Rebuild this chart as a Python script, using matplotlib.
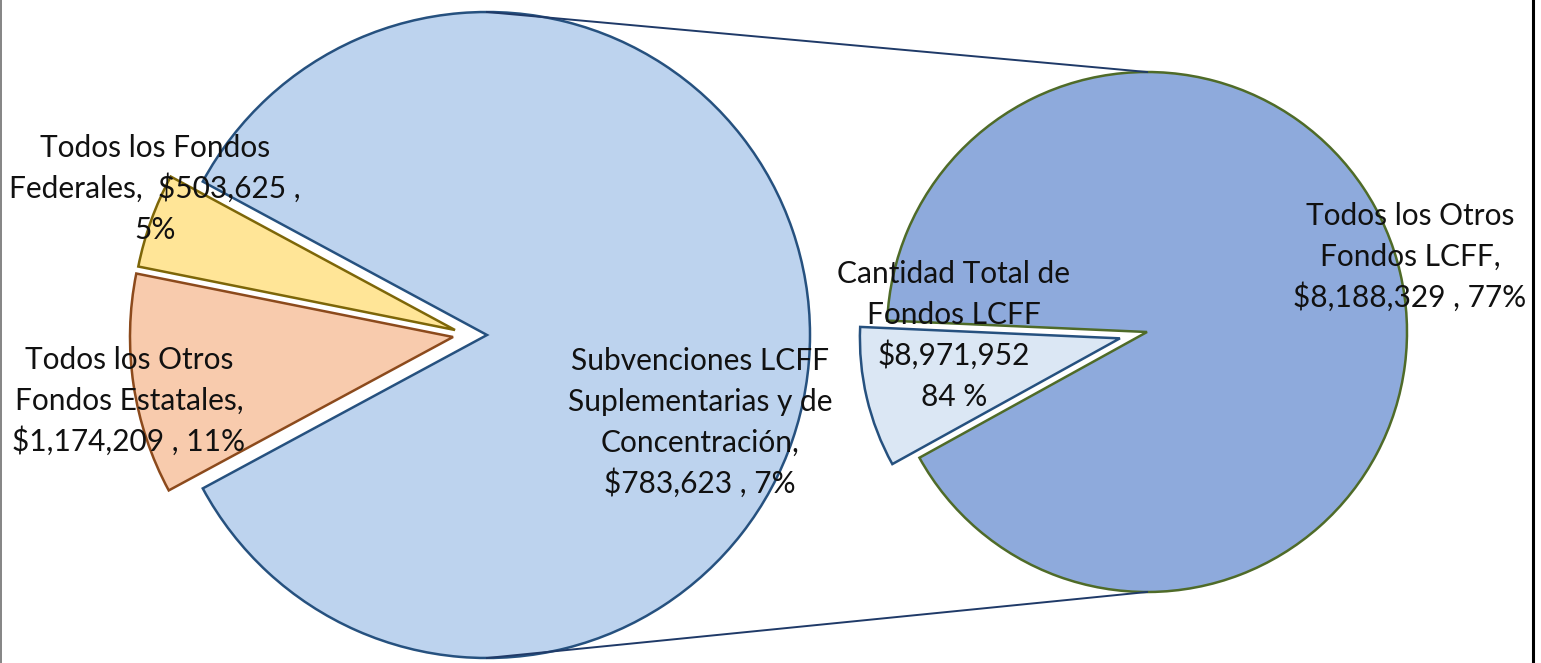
import matplotlib.pyplot as plt

W, H = 1541, 663

# first pie: where the money comes from
main_names = ['Todos los Fondos Federales', 'Todos los Otros Fondos Estatales', 'Cantidad Total de Fondos LCFF']
main_values = [503625, 1174209, 8971952]
main_colors = ['#FFE597', '#F8CBAD', '#BDD3EE']
main_edges = ['#7D6608', '#8C4A1C', '#26517F']

# second pie: the LCFF part split up
lcff_names = ['Subvenciones LCFF Suplementarias y de Concentración', 'Todos los Otros Fondos LCFF']
lcff_values = [783623, 8188329]
lcff_colors = ['#DBE7F4', '#8EAADC']
lcff_edges = ['#26517F', '#4F6B28']

total = sum(main_values)


def money(v):
    return '${:,.0f}'.format(v)


def pct(v):
    return '{:.0f}'.format(100 * v / total)


fig = plt.figure(figsize=(W / 100, H / 100), dpi=100)
ax = fig.add_axes([0, 0, 1, 1])

# left pie, the two small slices pulled out to the left
c1 = (487, H - 335)
r1 = 323
small_share = sum(main_values[:2]) / total
w1, _ = ax.pie(main_values, colors=main_colors, center=c1, radius=r1,
               startangle=180 - small_share * 180, counterclock=True,
               wedgeprops=dict(linewidth=1.8))
for w, ec in zip(w1, main_edges):
    w.set_edgecolor(ec)
shifts = [(-32, 5), (-34, -2)]
for w, (dx, dy) in zip(w1[:2], shifts):
    w.set_center((c1[0] + dx, c1[1] + dy))

# right pie (explode is in data units here, so scale by the radius)
c2 = (1147, H - 332)
r2 = 260
sub_share = lcff_values[0] / sum(lcff_values)
w2, _ = ax.pie(lcff_values, colors=lcff_colors, center=c2, radius=r2,
               startangle=193.2 - sub_share * 180, counterclock=True,
               explode=[0.107 * r2, 0], wedgeprops=dict(linewidth=1.8))
for w, ec in zip(w2, lcff_edges):
    w.set_edgecolor(ec)

# connector lines between the two pies
ax.plot([c1[0], c2[0]], [c1[1] + r1, c2[1] + r2], color='#1F3A68', lw=1.4, zorder=5)
ax.plot([c1[0], c2[0]], [c1[1] - r1, c2[1] - r2], color='#1F3A68', lw=1.4, zorder=5)

labels = [
    ('Todos los Fondos\nFederales,  {} ,\n{}%'.format(money(main_values[0]), pct(main_values[0])), 155, 157),
    ('Todos los Otros\nFondos Estatales,\n{} , {}%'.format(money(main_values[1]), pct(main_values[1])), 129, 369),
    ('Subvenciones LCFF\nSuplementarias y de\nConcentración,\n{} , {}%'.format(money(lcff_values[0]), pct(lcff_values[0])), 700, 370),
    ('Cantidad Total de\nFondos LCFF\n{}\n{} %'.format(money(main_values[2]), pct(main_values[2])), 954, 283),
    ('Todos los Otros\nFondos LCFF,\n{} , {}%'.format(money(lcff_values[1]), pct(lcff_values[1])), 1410, 225),
]
for txt, x, y in labels:
    for i, line in enumerate(txt.split('\n')):
        ax.text(x, H - (y + i * 41), line, ha='center', va='baseline',
                fontsize=21.5, family='Lato', color='#111111', zorder=10)

# frame edges
ax.axvline(0.8, color='#707070', lw=1.2)
ax.axvline(1533, color='black', lw=2.2)

ax.set_xlim(0, W)
ax.set_ylim(0, H)
ax.set_aspect('equal')
ax.axis('off')

fig.savefig('out.png', dpi=100)
